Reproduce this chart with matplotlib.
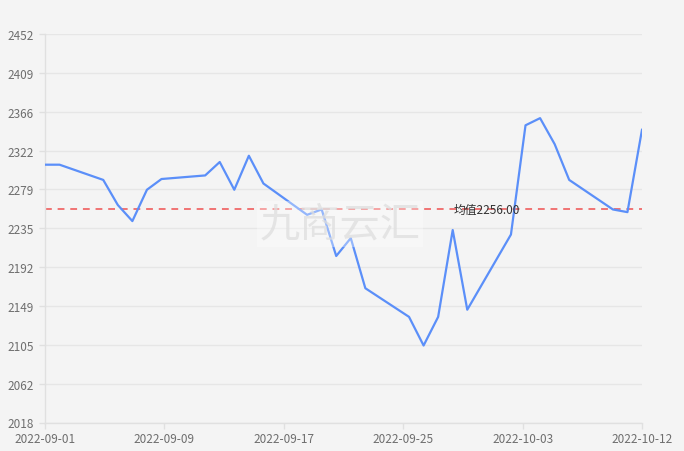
import matplotlib
matplotlib.use("Agg")
import matplotlib.pyplot as plt
import matplotlib.dates as mdates
import numpy as np
import pandas as pd

# trading days (weekends skipped) and closing values
dates = ["2022-09-01", "2022-09-02", "2022-09-05", "2022-09-06", "2022-09-07",
         "2022-09-08", "2022-09-09", "2022-09-12", "2022-09-13", "2022-09-14",
         "2022-09-15", "2022-09-16", "2022-09-19", "2022-09-20", "2022-09-21",
         "2022-09-22", "2022-09-23", "2022-09-26", "2022-09-27", "2022-09-28",
         "2022-09-29", "2022-09-30", "2022-10-03", "2022-10-04", "2022-10-05",
         "2022-10-06", "2022-10-07", "2022-10-10", "2022-10-11", "2022-10-12"]
values = [2306, 2306, 2289, 2261, 2243, 2278, 2290, 2294, 2309, 2278,
          2316, 2285, 2250, 2256, 2204, 2224, 2168, 2136, 2104, 2136,
          2233, 2144, 2228, 2350, 2358, 2329, 2289, 2256, 2253, 2345]
mean_value = 2256.00
y_tick_labels = ["2018", "2062", "2105", "2149", "2192", "2235",
                 "2279", "2322", "2366", "2409", "2452"]
watermark = "九商云汇"

plt.rcParams['font.family'] = ['Noto Sans CJK SC', 'DejaVu Sans']

bg = "#f4f4f4"
fig = plt.figure(figsize=(6.84, 4.52), dpi=100, facecolor=bg)
ax = fig.add_axes([45 / 684, 1 - 423.5 / 452, 597 / 684, 388.5 / 452])
ax.set_facecolor(bg)

x = pd.to_datetime(dates)
ax.plot(x, values, color="#5b8ff9", lw=1.6, zorder=3)

# mean line
ax.axhline(mean_value, color="#f07373", lw=1.4, ls=(0, (3.5, 3)), zorder=2)
ax.text(0.74, mean_value, f"均值{mean_value:.2f}", transform=ax.get_yaxis_transform(),
        ha="center", va="center", fontsize=8.5, color="#333333", zorder=4)

# axes ranges
x0 = mdates.date2num(x[0])
x1 = mdates.date2num(x[-1])
ax.set_xlim(x0, x1)
ax.set_ylim(float(y_tick_labels[0]), float(y_tick_labels[-1]))

yt = np.linspace(float(y_tick_labels[0]), float(y_tick_labels[-1]), len(y_tick_labels))
ax.set_yticks(yt)
ax.set_yticklabels(y_tick_labels)
xt = np.linspace(x0, x1, 6)
ax.set_xticks(xt)
ax.xaxis.set_major_formatter(mdates.DateFormatter("%Y-%m-%d"))

ax.grid(axis="y", color="#e6e6e6", lw=1)
ax.set_axisbelow(True)
for s in ["top", "right"]:
    ax.spines[s].set_visible(False)
for s in ["left", "bottom"]:
    ax.spines[s].set_color("#e0e0e0")
    ax.spines[s].set_linewidth(1)
ax.tick_params(axis="both", colors="#e0e0e0", length=4, width=1,
               labelcolor="#6e6e6e", labelsize=8.5)
ax.tick_params(axis="y", pad=4)
ax.tick_params(axis="x", pad=3)

# watermark
fig.text(340 / 684, 1 - 225 / 452, watermark, ha="center", va="center",
         fontsize=29, color="#dedede", alpha=0.75, zorder=10,
         bbox=dict(boxstyle="square,pad=0.05", fc="white", ec="none", alpha=0.35))

fig.savefig("out.png", dpi=100, facecolor=bg)
